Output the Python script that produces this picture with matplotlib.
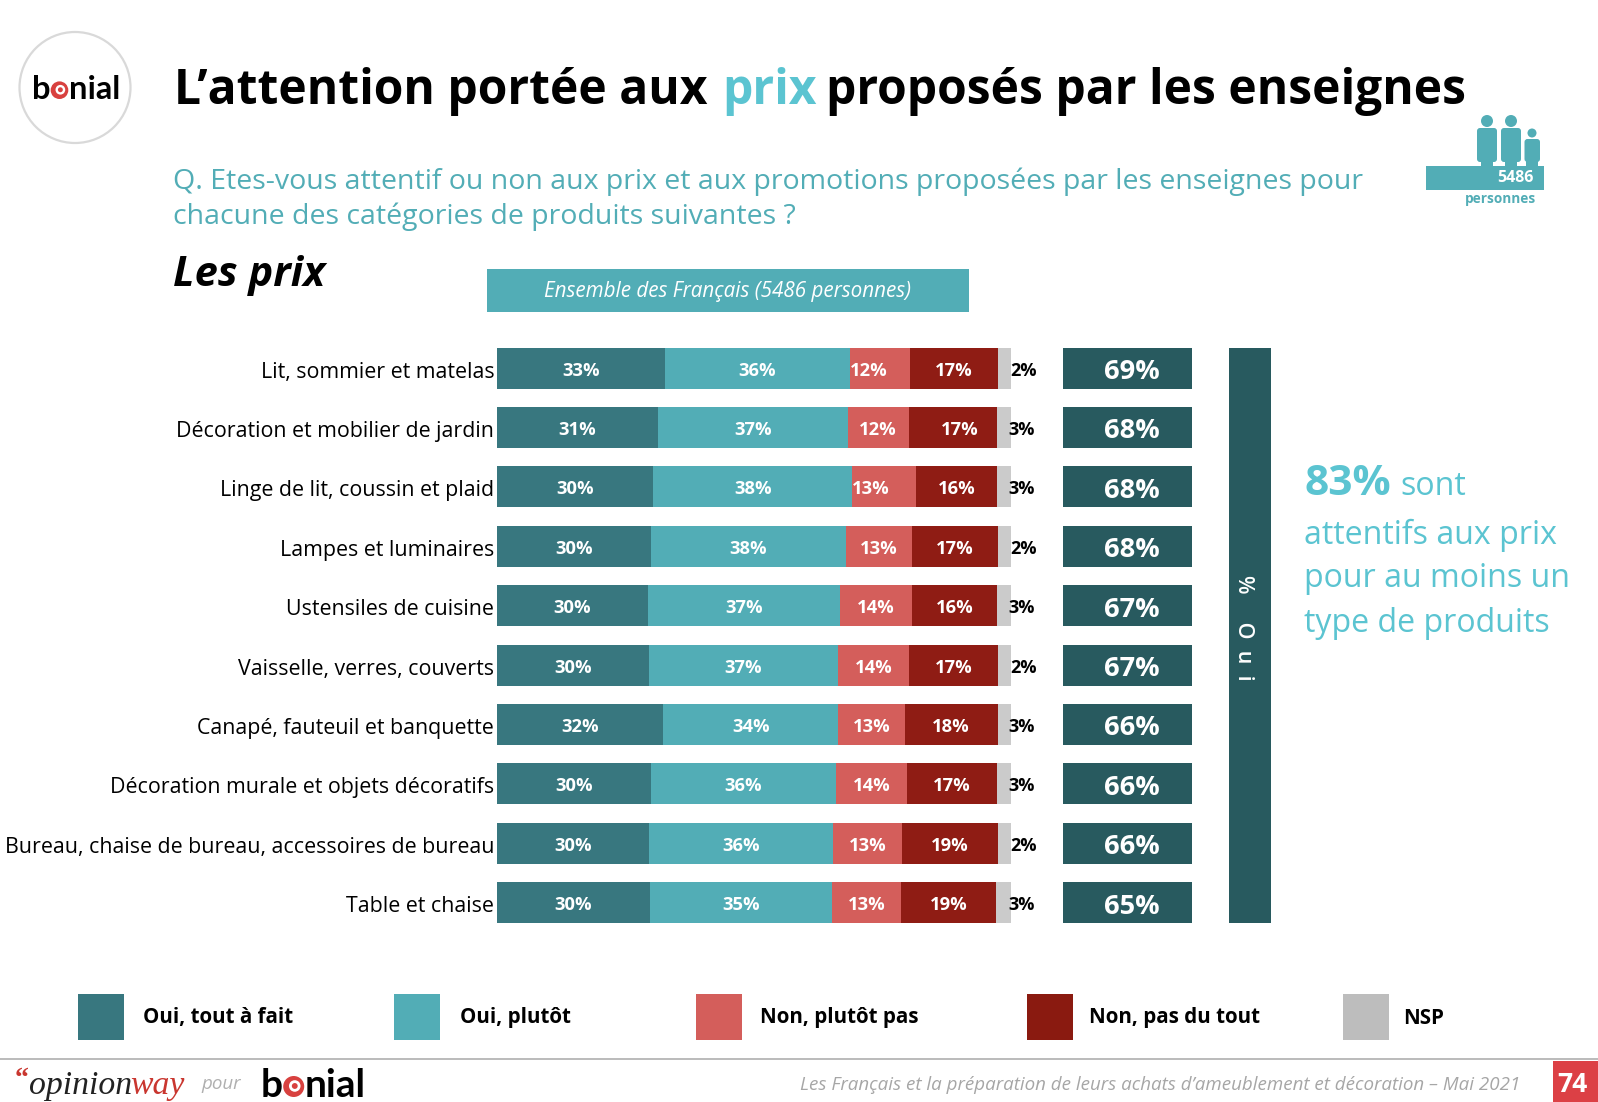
import matplotlib
matplotlib.use("Agg")
import matplotlib.pyplot as plt
from matplotlib.patches import Rectangle, Circle, FancyBboxPatch, Ellipse
from matplotlib.transforms import ScaledTranslation
import numpy as np

W, H = 1598, 1102
FONT = "Open Sans"
plt.rcParams["font.family"] = [FONT, "DejaVu Sans"]

categories = ["Lit, sommier et matelas", "Décoration et mobilier de jardin",
              "Linge de lit, coussin et plaid", "Lampes et luminaires",
              "Ustensiles de cuisine", "Vaisselle, verres, couverts",
              "Canapé, fauteuil et banquette", "Décoration murale et objets décoratifs",
              "Bureau, chaise de bureau, accessoires de bureau", "Table et chaise"]
oui_tout_a_fait = [32.7, 31.3, 30.4, 30.0, 29.4, 29.6, 32.3, 30.0, 29.6, 29.8]
oui_plutot = [35.9, 36.9, 38.7, 37.9, 37.3, 36.7, 34.1, 35.9, 35.7, 35.3]
non_plutot_pas = [11.7, 11.9, 12.5, 12.9, 14.1, 13.9, 12.9, 13.9, 13.5, 13.5]
non_pas_du_tout = [17.1, 17.1, 15.7, 16.7, 16.5, 17.3, 18.1, 17.5, 18.7, 18.5]
nsp = [2.6, 2.8, 2.8, 2.6, 2.8, 2.6, 2.6, 2.8, 2.6, 3.0]
labels_tout_a_fait = ["33%", "31%", "30%", "30%", "30%", "30%", "32%", "30%", "30%", "30%"]
labels_plutot = ["36%", "37%", "38%", "38%", "37%", "37%", "34%", "36%", "36%", "35%"]
labels_plutot_pas = ["12%", "12%", "13%", "13%", "14%", "14%", "13%", "14%", "13%", "13%"]
labels_pas_du_tout = ["17%", "17%", "16%", "17%", "16%", "17%", "18%", "17%", "19%", "19%"]
labels_nsp = ["2%", "3%", "3%", "2%", "3%", "2%", "3%", "3%", "2%", "3%"]
total_oui = ["69%", "68%", "68%", "68%", "67%", "67%", "66%", "66%", "66%", "65%"]
series_names = ["Oui, tout à fait", "Oui, plutôt", "Non, plutôt pas", "Non, pas du tout", "NSP"]

C_DARK, C_TEAL, C_RED, C_DRED, C_GREY = "#38777F", "#52ADB6", "#D45E5B", "#8F1C14", "#CBCBCB"
C_BOX, C_CYAN = "#285A5F", "#5BC4D1"
colors = [C_DARK, C_TEAL, C_RED, C_DRED, C_GREY]

fig = plt.figure(figsize=(W / 100, H / 100), dpi=100, facecolor="white")

# overlay in pixel units for slide furniture
ov = fig.add_axes([0, 0, 1, 1], zorder=5)
ov.set_xlim(0, W); ov.set_ylim(H, 0); ov.axis("off"); ov.patch.set_alpha(0)


def rect_axes(x0, x1, y0, y1):
    return fig.add_axes([x0 / W, 1 - y1 / H, (x1 - x0) / W, (y1 - y0) / H])


PITCH = 59.4
TOP = 368.2 - PITCH / 2
BOT = TOP + 10 * PITCH
BAR_H = 41 / PITCH
y = np.arange(len(categories))

# stacked bars
ax = rect_axes(497, 1011, TOP, BOT)
ax.set_xlim(0, 100); ax.set_ylim(9.5, -0.5)
series = [oui_tout_a_fait, oui_plutot, non_plutot_pas, non_pas_du_tout, nsp]
texts = [labels_tout_a_fait, labels_plutot, labels_plutot_pas, labels_pas_du_tout]
nudges = {(0, 2): -2.1, (2, 2): -2.7, (1, 3): 1.3}
left = np.zeros(len(categories))
for k, vals in enumerate(series):
    vals = np.array(vals)
    ax.barh(y, vals, left=left, height=BAR_H, color=colors[k], edgecolor="none")
    if k < 4:
        for i in y:
            ax.text(left[i] + vals[i] / 2 + nudges.get((i, k), 0), i + 0.04, texts[k][i],
                    color="white", fontsize=13.2, fontweight="bold", ha="center", va="center")
    left += vals
for i in y:
    ax.text(102.4 if labels_nsp[i] == "2%" else 102.0, i + 0.04, labels_nsp[i], color="black",
            fontsize=13, fontweight="bold", ha="center", va="center", clip_on=False)
ax.set_yticks(y, categories, fontsize=15.4, color="black")
ax.set_xticks([])
ax.tick_params(axis="y", length=0, pad=2)
shift = ScaledTranslation(0, -1.5 / 100, fig.dpi_scale_trans)
for lab in ax.get_yticklabels():
    lab.set_transform(lab.get_transform() + shift)
for s in ax.spines.values():
    s.set_visible(False)

# total boxes
ax2 = rect_axes(1063, 1192, TOP, BOT)
ax2.set_xlim(0, 1); ax2.set_ylim(9.5, -0.5); ax2.axis("off")
ax2.barh(y, np.ones(len(y)), height=BAR_H, color=C_BOX, edgecolor="none")
for i in y:
    ax2.text(0.535, i + 0.065, total_oui[i], color="white", fontsize=19.5, fontweight="bold",
             ha="center", va="center")

# vertical band
ov.add_patch(Rectangle((1229, 347.5), 42, 575.5, color=C_BOX, lw=0))
ov.text(1244, 628, "%     O  u  i", rotation=-90, color="white", fontsize=15.5, ha="center", va="center",
        fontweight="semibold")

# header band
ov.add_patch(Rectangle((487, 269), 482, 43, color=C_TEAL, lw=0))
ov.text(728, 291, "Ensemble des Français (5486 personnes)", color="white", style="italic",
        fontsize=14.9, ha="center", va="center")

# title
TS = 34.6
for xp, s, c in [(174, "L’attention portée aux", "black"), (722, "prix", C_CYAN),
                 (826, "proposés par les enseignes", "black")]:
    ov.text(xp, 104, s, color=c, fontsize=TS, fontweight="bold", ha="left", va="baseline")

# question
ov.text(173, 189, "Q. Etes-vous attentif ou non aux prix et aux promotions proposées par les enseignes pour",
        color=C_TEAL, fontsize=20.5, ha="left", va="baseline")
ov.text(173, 224, "chacune des catégories de produits suivantes ?", color=C_TEAL, fontsize=20.5,
        ha="left", va="baseline")
ov.text(173, 286, "Les prix", color="black", fontsize=30, fontweight="bold", style="italic",
        ha="left", va="baseline")

# right call-out
ov.text(1304, 495, "83%", color=C_CYAN, fontsize=30.5, fontweight="bold", ha="left", va="baseline")
ov.text(1400, 495, "sont", color=C_CYAN, fontsize=23.1, ha="left", va="baseline")
for yy, s in [(544, "attentifs aux prix"), (587, "pour au moins un"), (632, "type de produits")]:
    ov.text(1304, yy, s, color=C_CYAN, fontsize=23.1, ha="left", va="baseline")

# people icon
ov.add_patch(Rectangle((1426, 166), 117.5, 24, color=C_TEAL, lw=0))
for cx, cy, r, x0, x1, y0 in [(1487, 121, 6, 1477, 1497, 128), (1511, 121, 6, 1501, 1521, 128),
                              (1532, 133, 4.5, 1524.5, 1540, 139)]:
    ov.add_patch(Circle((cx, cy), r, color=C_TEAL, lw=0))
    ov.add_patch(FancyBboxPatch((x0 + 3, y0 + 3), x1 - x0 - 6, 156 - y0, boxstyle="round,pad=3",
                                color=C_TEAL, lw=0))
    ov.add_patch(Rectangle(((x0 + x1) / 2 - 6, 155), 12, 12, color=C_TEAL, lw=0))
ov.text(1515, 177.5, "5486", color="white", fontsize=11.5, fontweight="bold", ha="center", va="center")
ov.text(1501, 199.5, "personnes", color=C_TEAL, fontsize=9.8, fontweight="bold", ha="center", va="center")


def bonial(x, baseline, fs):
    renderer = fig.canvas.get_renderer()
    t = ov.text(x, baseline, "b", color="black", fontsize=fs, fontweight="bold", family="Lato",
                ha="left", va="baseline")
    x1 = t.get_window_extent(renderer).x1
    px = fs / 0.72
    r = 0.27 * px
    cx = x1 + r * 1.02
    cy = baseline - r
    ov.add_patch(Circle((cx, cy), r, fc="#D8413F", lw=0))
    ov.add_patch(Circle((cx + r * .1, cy - r * .05), r * .55, fc="white", lw=0))
    ov.add_patch(Circle((cx + r * .1, cy - r * .05), r * .28, fc="#D8413F", lw=0))
    ov.text(cx + r * 1.05, baseline, "nial", color="black", fontsize=fs, fontweight="bold", family="Lato",
            ha="left", va="baseline")


# logo at top-left
ov.add_patch(Ellipse((75, 87.5), 111, 111, fc="white", ec="#D9D9D9", lw=1.6))
bonial(32, 99, 23.5)

# legend
for x_sw, x_t, name, c in zip([78, 394, 696, 1026.5, 1343], [143, 460, 760, 1089, 1403], series_names,
                              [C_DARK, C_TEAL, C_RED, "#8A1A10", "#BDBDBD"]):
    ov.add_patch(Rectangle((x_sw, 994), 46, 46, color=c, lw=0))
    ov.text(x_t, 1018, name, color="black", fontsize=14.8, fontweight="bold", ha="left", va="center")

# footer
ov.plot([0, W], [1059, 1059], color="#B5B5B5", lw=1.3)
ov.text(29, 1094, "opinion", family="Liberation Serif", style="italic", fontsize=24.3, color="#222222",
        ha="left", va="baseline")
ov.text(130.5, 1094, "way", family="Liberation Serif", style="italic", fontsize=24.3, color="#C9362F",
        ha="left", va="baseline")
ov.text(15, 1086, "“", family="Liberation Serif", fontsize=20, color="#C9362F", fontweight="bold",
        ha="left", va="baseline")
ov.text(201, 1089, "pour", style="italic", fontsize=13.5, color="#B0B0B0", ha="left", va="baseline")
bonial(261, 1097, 28)
ov.text(1520, 1085, "Les Français et la préparation de leurs achats d’ameublement et décoration – Mai 2021",
        style="italic", fontsize=13.5, color="#A6A6A6", ha="right", va="center")
ov.add_patch(Rectangle((1553, 1061), 45, 41, color="#DC4045", lw=0))
ov.text(1572.5, 1084, "74", color="white", fontsize=19, fontweight="bold", ha="center", va="center")

fig.savefig("out.png", dpi=100, facecolor="white")
